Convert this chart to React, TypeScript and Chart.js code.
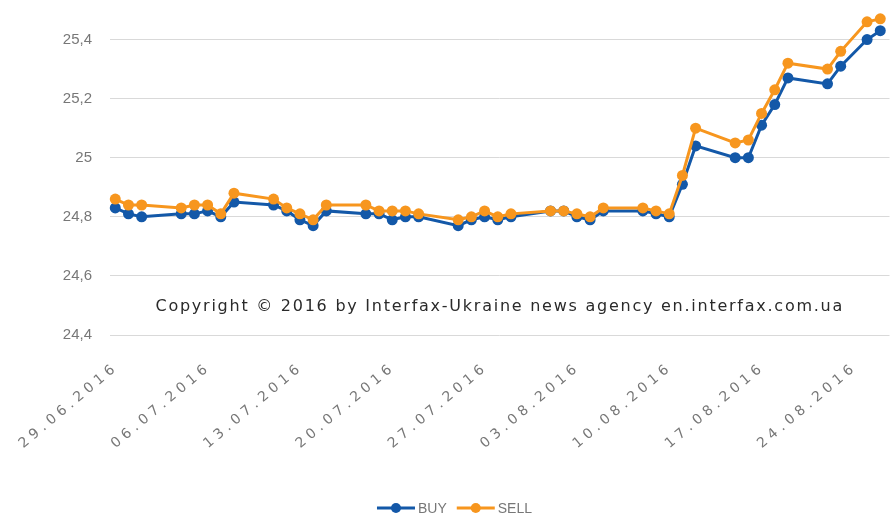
import React, { useEffect, useRef } from "react";
import { Chart, registerables } from "chart.js";

Chart.register(...registerables);

const dates = [
  "29.06.2016", "30.06.2016", "01.07.2016",
  "04.07.2016", "05.07.2016", "06.07.2016", "07.07.2016", "08.07.2016",
  "11.07.2016", "12.07.2016", "13.07.2016", "14.07.2016", "15.07.2016",
  "18.07.2016", "19.07.2016", "20.07.2016", "21.07.2016", "22.07.2016",
  "25.07.2016", "26.07.2016", "27.07.2016", "28.07.2016", "29.07.2016",
  "01.08.2016", "02.08.2016", "03.08.2016", "04.08.2016", "05.08.2016",
  "08.08.2016", "09.08.2016", "10.08.2016", "11.08.2016", "12.08.2016",
  "15.08.2016", "16.08.2016", "17.08.2016", "18.08.2016", "19.08.2016",
  "22.08.2016", "23.08.2016", "25.08.2016", "26.08.2016",
];

const buy = [
  24.83, 24.81, 24.80,
  24.81, 24.81, 24.82, 24.80, 24.85,
  24.84, 24.82, 24.79, 24.77, 24.82,
  24.81, 24.81, 24.79, 24.80, 24.80,
  24.77, 24.79, 24.80, 24.79, 24.80,
  24.82, 24.82, 24.80, 24.79, 24.82,
  24.82, 24.81, 24.80, 24.91, 25.04,
  25.00, 25.00, 25.11, 25.18, 25.27,
  25.25, 25.31, 25.40, 25.43,
];

const sell = [
  24.86, 24.84, 24.84,
  24.83, 24.84, 24.84, 24.81, 24.88,
  24.86, 24.83, 24.81, 24.79, 24.84,
  24.84, 24.82, 24.82, 24.82, 24.81,
  24.79, 24.80, 24.82, 24.80, 24.81,
  24.82, 24.82, 24.81, 24.80, 24.83,
  24.83, 24.82, 24.81, 24.94, 25.10,
  25.05, 25.06, 25.15, 25.23, 25.32,
  25.30, 25.36, 25.46, 25.47,
];

const tickLabels = [
  "29.06.2016", "06.07.2016", "13.07.2016", "20.07.2016", "27.07.2016",
  "03.08.2016", "10.08.2016", "17.08.2016", "24.08.2016",
];

const yTicks = [24.4, 24.6, 24.8, 25.0, 25.2, 25.4];

const COPYRIGHT = "Copyright © 2016 by Interfax-Ukraine news agency en.interfax.com.ua";

const BLUE = "#1358a8";
const ORANGE = "#f7961e";
const FONT = '"Liberation Sans", Arial, sans-serif';
const WIDE_FONT = '"DejaVu Sans", Verdana, sans-serif';

function dayIndex(s: string): number {
  const [d, m, y] = s.split(".").map(Number);
  const [d0, m0, y0] = dates[0].split(".").map(Number);
  return Math.round((Date.UTC(y, m - 1, d) - Date.UTC(y0, m0 - 1, d0)) / 86400000);
}

const xLabelsPlugin = {
  id: "xlabels",
  afterDraw(chart: any) {
    const { ctx, chartArea } = chart;
    const scale = chart.scales.x;
    ctx.save();
    ctx.font = "14px " + WIDE_FONT;
    ctx.fillStyle = "#777777";
    (ctx as any).letterSpacing = "4.5px";
    ctx.textAlign = "right";
    ctx.textBaseline = "top";
    const angle = (40 * Math.PI) / 180;
    scale.ticks.forEach((t: any) => {
      const idx = tickLabels.findIndex((s) => dayIndex(s) === t.value);
      if (idx < 0) return;
      const px = scale.getPixelForValue(t.value);
      ctx.save();
      ctx.translate(px - 3, chartArea.bottom + 25);
      ctx.rotate(-angle);
      ctx.fillText(tickLabels[idx], 0, 0);
      ctx.restore();
    });
    ctx.restore();
  },
};

const copyrightPlugin = {
  id: "copyright",
  afterDatasetsDraw(chart: any) {
    const { ctx, chartArea } = chart;
    ctx.save();
    ctx.font = "16px " + WIDE_FONT;
    ctx.fillStyle = "#2a2a2a";
    (ctx as any).letterSpacing = "1.75px";
    ctx.textAlign = "center";
    ctx.textBaseline = "middle";
    const x = (chartArea.left + chartArea.right) / 2;
    const y = chartArea.top + (chartArea.bottom - chartArea.top) * 0.912;
    ctx.fillText(COPYRIGHT, x, y);
    ctx.restore();
  },
};

const legendPlugin = {
  id: "customLegend",
  afterDraw(chart: any) {
    const { ctx } = chart;
    const iconW = 38;
    const gap = 3;
    const itemGap = 10;
    ctx.save();
    ctx.font = "14px " + FONT;
    const items = chart.data.datasets.map((ds: any) => ({
      label: ds.label as string,
      color: ds.borderColor as string,
      w: ctx.measureText(ds.label).width,
    }));
    const total =
      items.reduce((s: number, it: any) => s + iconW + gap + it.w, 0) + itemGap * (items.length - 1);
    let x = chart.width / 2 + 7 - total / 2;
    const y = 508;
    items.forEach((it: any) => {
      ctx.strokeStyle = it.color;
      ctx.lineWidth = 3;
      ctx.beginPath();
      ctx.moveTo(x, y);
      ctx.lineTo(x + iconW, y);
      ctx.stroke();
      ctx.fillStyle = it.color;
      ctx.beginPath();
      ctx.arc(x + iconW / 2, y, 5, 0, Math.PI * 2);
      ctx.fill();
      ctx.fillStyle = "#777777";
      ctx.textAlign = "left";
      ctx.textBaseline = "middle";
      ctx.fillText(it.label, x + iconW + gap, y + 1);
      x += iconW + gap + it.w + itemGap;
    });
    ctx.restore();
  },
};

export default function App() {
  const ref = useRef<HTMLCanvasElement | null>(null);

  useEffect(() => {
    document.body.style.margin = "0";
    const canvas = ref.current!;
    const chart = new Chart(canvas, {
      type: "line",
      data: {
        datasets: [
          {
            label: "BUY",
            data: dates.map((d, i) => ({ x: dayIndex(d), y: buy[i] })),
            borderColor: BLUE,
            backgroundColor: BLUE,
            borderWidth: 3,
            pointRadius: 5.5,
            pointBorderWidth: 0,
            pointHoverRadius: 5.5,
            clip: false,
            order: 1,
          },
          {
            label: "SELL",
            data: dates.map((d, i) => ({ x: dayIndex(d), y: sell[i] })),
            borderColor: ORANGE,
            backgroundColor: ORANGE,
            borderWidth: 3,
            pointRadius: 5.5,
            pointBorderWidth: 0,
            pointHoverRadius: 5.5,
            clip: false,
            order: 0,
          },
        ],
      },
      options: {
        animation: false,
        responsive: false,
        maintainAspectRatio: false,
        layout: { padding: { top: 10, right: 5, left: 0, bottom: 0 } },
        plugins: {
          tooltip: { enabled: false },
          legend: { display: false },
        },
        scales: {
          x: {
            type: "linear",
            min: -0.4,
            max: 58.7,
            grid: { display: false, drawTicks: false },
            border: { display: false },
            afterBuildTicks: (axis: any) => {
              axis.ticks = tickLabels.map((t) => ({ value: dayIndex(t) }));
            },
            afterFit: (axis: any) => {
              axis.height = 185;
              axis.paddingLeft = 0;
              axis.paddingRight = 0;
            },
            ticks: { display: false },
          },
          y: {
            type: "linear",
            min: 24.4,
            max: 25.5,
            grid: { color: "#d9d9d9", drawTicks: false, lineWidth: 1 },
            border: { display: false },
            afterBuildTicks: (axis: any) => {
              axis.ticks = yTicks.map((v) => ({ value: v }));
            },
            afterFit: (axis: any) => {
              axis.width = 110;
              axis.paddingTop = 0;
              axis.paddingBottom = 0;
            },
            ticks: {
              padding: 18,
              color: "#777777",
              font: { size: 15, family: FONT },
              callback: (v: any) => {
                const s = (Math.round(v * 10) / 10).toString();
                return s.replace(".", ",");
              },
            },
          },
        },
      },
      plugins: [copyrightPlugin, xLabelsPlugin, legendPlugin],
    });
    return () => chart.destroy();
  }, []);

  return (
    <div style={{ width: 895, height: 520 }}>
      <canvas ref={ref} width={895} height={520} style={{ display: "block" }} />
    </div>
  );
}
